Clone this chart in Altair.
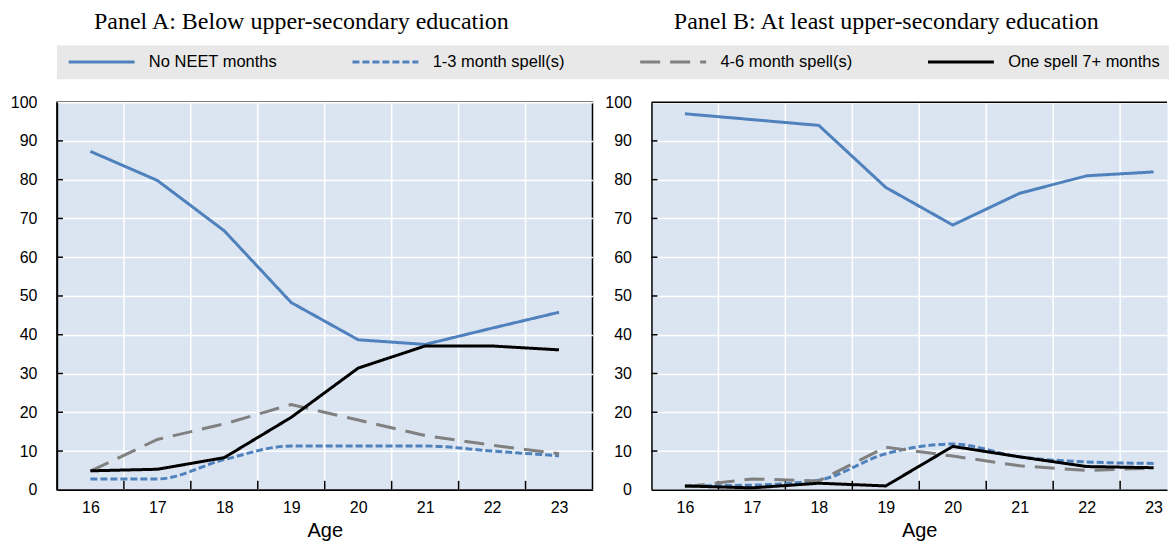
import altair as alt
import pandas as pd

# Share of young people (%) by age and NEET experience
ages = [16, 17, 18, 19, 20, 21, 22, 23]
series = ["No NEET months", "1-3 month spell(s)", "4-6 month spell(s)", "One spell 7+ months"]
y_ticks = [0, 10, 20, 30, 40, 50, 60, 70, 80, 90, 100]

below_no_neet = [87.3, 79.8, 66.8, 48.3, 38.7, 37.5, 41.7, 45.8]
below_short = [2.8, 2.8, 7.8, 11.3, 11.3, 11.3, 10.0, 8.8]
below_medium = [4.8, 13.0, 17.0, 22.0, 18.0, 14.0, 11.5, 9.3]
below_long = [4.9, 5.3, 8.3, 18.7, 31.4, 37.1, 37.1, 36.1]

upper_no_neet = [97.0, 95.5, 94.0, 78.0, 68.3, 76.5, 81.0, 82.0]
upper_short = [1.0, 1.2, 2.5, 9.3, 11.8, 8.5, 7.2, 6.8]
upper_medium = [0.8, 2.8, 2.3, 11.0, 8.7, 6.2, 5.0, 5.6]
upper_long = [1.0, 0.5, 1.7, 1.0, 11.2, 8.5, 6.0, 5.7]

colors = ["#4f81bd", "#4f81bd", "#808080", "#000000"]
dashes = [[1, 0], [7, 3], [20, 10], [1, 0]]

SANS = "Liberation Sans, Arial, sans-serif"
SERIF = "Liberation Serif, Times New Roman, serif"
PLOT_H = 388
PLOT_BG = "#dbe5f1"


def long_table(columns):
    rows = []
    for name, values in zip(series, columns):
        for age, v in zip(ages, values):
            rows.append({"Age": age, "Share": v, "Series": name})
    return pd.DataFrame(rows)


legend = alt.Legend(
    orient="none", legendX=0, legendY=-57, direction="horizontal", columns=4,
    title=None, symbolType="M-1,0H12.2", symbolSize=100, symbolStrokeWidth=3,
    labelFont=SANS, labelFontSize=16.5, labelColor="black", labelOffset=67,
    labelLimit=400, columnPadding=69, padding=8.5, fillColor="#e8e8e8",
)
color_enc = alt.Color("Series:N", scale=alt.Scale(domain=series, range=colors), legend=legend)
dash_enc = alt.StrokeDash("Series:N", scale=alt.Scale(domain=series, range=dashes), legend=legend)


def panel(columns, title, x_max, width, framed, title_x):
    x_scale = alt.Scale(domain=[15.5, x_max], nice=False, zero=False)
    y_scale = alt.Scale(domain=[0, 100], nice=False)
    axis_kw = dict(values=ages, format="d", grid=False, ticks=False, domainColor="black",
                   domainWidth=1.5, labelFont=SANS, labelFontSize=16, labelColor="black",
                   labelPadding=10, title="Age", titleFont=SANS, titleFontSize=20,
                   titleFontWeight="normal", titleColor="black", titlePadding=5)
    if title_x is not None:
        axis_kw["titleX"] = title_x
    x_axis = alt.Axis(**axis_kw)
    y_axis = alt.Axis(values=y_ticks, grid=True, gridColor="white", gridWidth=1.5, ticks=False,
                      domainColor="black", domainWidth=1.5, labelFont=SANS, labelFontSize=16,
                      labelColor="black", labelPadding=20, title=None)

    # white column separators and inward tick marks between ages
    edges = alt.Chart(pd.DataFrame({"Age": ages[:-1]})).transform_calculate(edge="datum.Age + 0.5")
    vgrid = edges.mark_rule(color="white", strokeWidth=1.5).encode(
        x=alt.X("edge:Q", scale=x_scale, axis=x_axis))
    xticks = edges.mark_rule(color="black", strokeWidth=1.5).encode(
        x=alt.X("edge:Q", scale=x_scale, axis=x_axis),
        y=alt.value(PLOT_H), y2=alt.value(PLOT_H - 9))
    yticks = alt.Chart(pd.DataFrame({"v": y_ticks[1:-1]})).mark_rule(
        color="black", strokeWidth=1.5).encode(
        y=alt.Y("v:Q", scale=y_scale, axis=y_axis), x=alt.value(0), x2=alt.value(6))

    df = long_table(columns)
    enc = dict(
        x=alt.X("Age:Q", scale=x_scale, axis=x_axis),
        y=alt.Y("Share:Q", scale=y_scale, axis=y_axis),
        color=color_enc, strokeDash=dash_enc,
        order=alt.Order("Age:Q"),
    )
    short = alt.Chart(df).transform_filter(
        alt.datum.Series == series[1]
    ).mark_line(strokeWidth=3, interpolate="monotone").encode(**enc)
    others = alt.Chart(df).transform_filter(
        alt.datum.Series != series[1]
    ).mark_line(strokeWidth=3).encode(**enc)

    layers = [vgrid, xticks, yticks, short, others]
    if framed:
        view = alt.ViewBackground(fill=PLOT_BG, stroke="black", strokeWidth=1.5)
    else:
        top = alt.Chart(alt.Data(values=[{}])).mark_rule(color="black", strokeWidth=1.5).encode(
            x=alt.value(0), x2=alt.value(width), y=alt.value(0))
        layers.append(top)
        view = alt.ViewBackground(fill=PLOT_BG, stroke="transparent")
    return alt.layer(*layers).properties(
        width=width, height=PLOT_H, view=view,
        title=alt.TitleParams(title, font=SERIF, fontSize=24, fontWeight="normal",
                              color="black", anchor="middle", frame="bounds", offset=60),
    )


left = panel([below_no_neet, below_short, below_medium, below_long],
             "Panel A: Below upper-secondary education", 23.5, 536, True, None)
right = panel([upper_no_neet, upper_short, upper_medium, upper_long],
              "Panel B: At least upper-secondary education", 23.2, 516, False, 268)

chart = alt.hconcat(left, right, spacing=10).properties(
    padding={"left": 9, "top": 9, "right": 0, "bottom": 0}
).configure(background="white")

chart.save("out.html", embed_options={"renderer": "svg", "actions": False})
